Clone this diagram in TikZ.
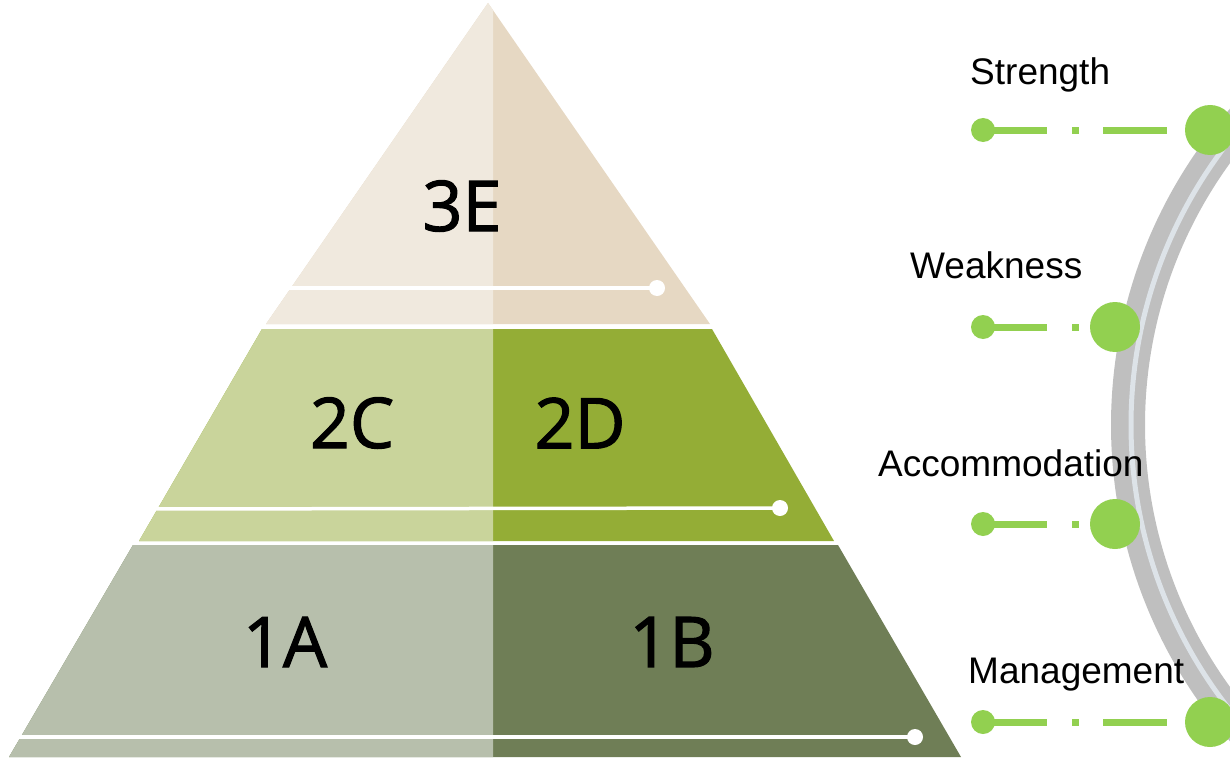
\documentclass[tikz,border=0pt]{standalone}
\usepackage{fontspec}
\setmainfont{Liberation Sans}
\newfontfamily\levelfont[FakeBold=1.6]{Open Sans}
\usetikzlibrary{shapes,arrows}

\definecolor{tanleft}{HTML}{F0E9DE}
\definecolor{tanright}{HTML}{E6D8C3}
\definecolor{greenleft}{HTML}{C9D49B}
\definecolor{greenright}{HTML}{94AD36}
\definecolor{oliveleft}{HTML}{B7BFAC}
\definecolor{oliveright}{HTML}{6F7E56}
\definecolor{dotgreen}{HTML}{92D050}
\definecolor{bandgray}{HTML}{BFBFBF}
\definecolor{bandlight}{HTML}{DDE3E8}

\begin{document}
\begin{tikzpicture}[x=1pt,y=-1pt,
  level label/.style={
    font=\levelfont\fontsize{70}{80}\selectfont,
    inner sep=0pt},
  side label/.style={
    anchor=base west,
    inner sep=0pt,
    font=\fontsize{37}{44}\selectfont},
  white dot/.style={circle, fill=white, minimum size=16pt, inner sep=0pt},
  white line/.style={white, line width=3.5pt},
  small dot/.style={circle, fill=dotgreen, minimum size=24pt, inner sep=0pt},
  big dot/.style={circle, fill=dotgreen, minimum size=50pt, inner sep=0pt},
  link/.style={dotgreen, line width=7pt,
    dash pattern=on 64pt off 25pt on 7pt off 24pt},
  arc band/.style={bandgray, line width=34pt},
  arc light/.style={bandlight, line width=5pt}
  ]
    \clip (0,0) rectangle (1230,757);
    % pyramid
    \fill[tanright] (488,3) -- (710,324) -- (266,324) -- cycle;
    \fill[tanleft] (488,3) -- (493,10) -- (493,324) -- (266,324) -- cycle;
    \fill[greenright] (262,329) -- (712,329) -- (834,541) -- (139,541) -- cycle;
    \fill[greenleft] (262,329) -- (493,329) -- (493,541) -- (139,541) -- cycle;
    \fill[oliveright] (133,545) -- (838,545) -- (961,757) -- (9,757) -- cycle;
    \fill[oliveleft] (133,545) -- (493,545) -- (493,757) -- (9,757) -- cycle;

    \node[level label] (e3) at (462,206) {3E};
    \node[level label] (c2) at (352,423) {2C};
    \node[level label] (d2) at (580,423) {2D};
    \node[level label] (a1) at (285,642) {1A};
    \node[level label] (b1) at (672,642) {1B};

    \node[white dot] (w3) at (657,288) {};
    \node[white dot] (w2) at (780,508) {};
    \node[white dot] (w1) at (915,737) {};
    \coordinate (l3) at (280,288);
    \coordinate (l2) at (150,509);
    \coordinate (l1) at (12,737);
    \draw[white line] (l3) -- (w3.center);
    \draw[white line] (l2) -- (w2.center);
    \draw[white line] (l1) -- (w1.center);

    % arc on the right
    \coordinate (ctr) at (1591,425);
    \draw[arc band] ([shift={(128:463)}]ctr) arc[start angle=128, end angle=232, radius=463];
    \draw[arc light] ([shift={(128:460)}]ctr) arc[start angle=128, end angle=232, radius=460];

    \node[small dot] (s1) at (983,130) {};
    \node[small dot] (s2) at (983,327) {};
    \node[small dot] (s3) at (983,524) {};
    \node[small dot] (s4) at (983,722) {};
    \node[big dot] (g1) at (1210,130) {};
    \node[big dot] (g2) at (1115,327) {};
    \node[big dot] (g3) at (1115,524) {};
    \node[big dot] (g4) at (1210,722) {};
    \draw[link] (s1.center) -- (g1.center);
    \draw[link] (s2.center) -- (g2.center);
    \draw[link] (s3.center) -- (g3.center);
    \draw[link] (s4.center) -- (g4.center);

    \node[side label] (t1) at (970,85) {Strength};
    \node[side label] (t2) at (910,278) {Weakness};
    \node[side label] (t3) at (878,476) {Accommodation};
    \node[side label] (t4) at (968,683) {Management};
\end{tikzpicture}
\end{document}
